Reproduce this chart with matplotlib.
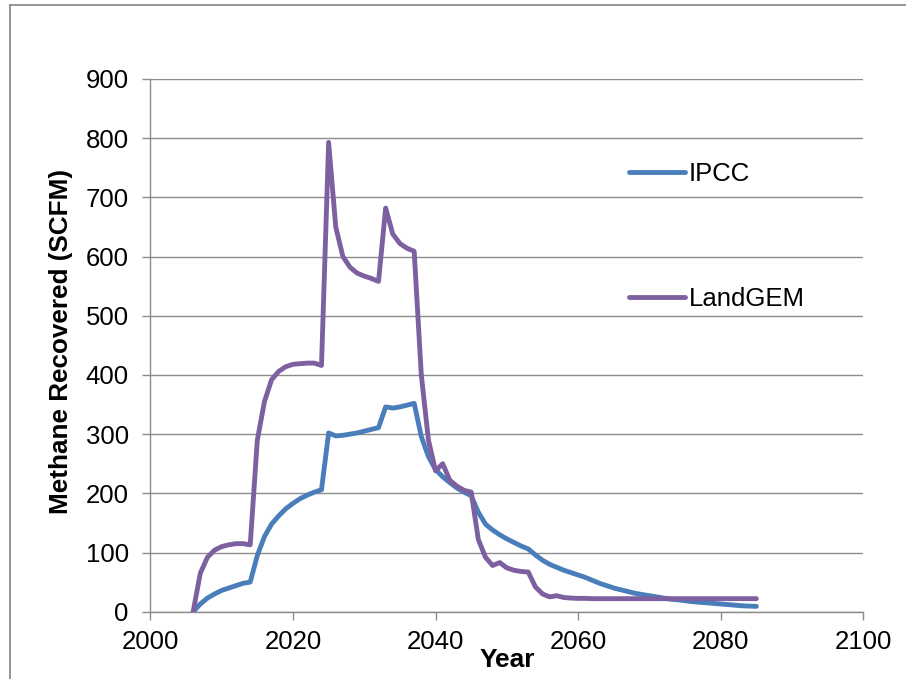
import matplotlib
matplotlib.use("Agg")
import matplotlib.pyplot as plt
from matplotlib.lines import Line2D

plt.rcParams['font.family'] = ['Liberation Sans', 'DejaVu Sans']

years = list(range(2006, 2086))

ipcc = [0, 13, 23, 30, 36, 40, 44, 48, 50,
        95, 127, 148, 162, 174, 183, 191, 197, 202, 206,
        302, 297, 298, 300, 302, 305, 308, 311,
        346, 344, 346, 349, 352,
        296, 262, 240, 228, 218, 209, 202, 196,
        168, 148, 138, 130, 123, 117, 111, 106,
        96, 87, 80, 75, 70, 66, 62, 58, 53, 48, 44, 40, 37, 34, 31, 29,
        27, 25, 23, 21, 20, 18.5, 17, 16, 15, 14, 13, 12, 11, 10, 9.5, 9]

landgem = [0, 65, 92, 104, 110, 113, 115, 115, 113,
           290, 355, 392, 406, 414, 418, 419, 420, 420, 416,
           793, 650, 600, 582, 572, 567, 563, 558,
           682, 638, 622, 614, 609,
           400, 290, 238, 250, 222, 212, 205, 202,
           122, 92, 78, 83, 74, 70, 68, 67,
           42, 30, 25, 27, 24, 23, 22.5, 22.5, 22, 22, 22, 22, 22, 22, 22, 22,
           22, 22, 22, 22, 22, 22, 22, 22, 22, 22, 22, 22, 22, 22, 22, 22]

series_names = ['IPCC', 'LandGEM']
colors = ['#4A7EBB', '#7D60A0']

W, H = 906, 679
fig = plt.figure(figsize=(W / 100, H / 100), dpi=100)
ax = fig.add_axes([150.4 / W, 1 - 611.7 / H, (863.3 - 150.4) / W, (611.7 - 79) / H])

# outer chart frame
fig.add_artist(Line2D([10 / W, 10 / W], [0, 1 - 5 / H], transform=fig.transFigure,
                      color='#8c8c8c', lw=1.3))
fig.add_artist(Line2D([10 / W, 1], [1 - 5 / H, 1 - 5 / H], transform=fig.transFigure,
                      color='#8c8c8c', lw=1.3))

ax.plot(years, ipcc, color=colors[0], lw=3.5, label=series_names[0],
        solid_capstyle='round', solid_joinstyle='round', zorder=3)
ax.plot(years, landgem, color=colors[1], lw=3.5, label=series_names[1],
        solid_capstyle='round', solid_joinstyle='round', zorder=3)

ax.set_xlim(2000, 2100)
ax.set_ylim(0, 900)
ax.set_xticks(range(2000, 2101, 20))
ax.set_yticks(range(0, 901, 100))
ax.yaxis.grid(True, color='#8c8c8c', lw=1.0)
ax.set_axisbelow(True)
for s in ['top', 'right']:
    ax.spines[s].set_visible(False)
for s in ['left', 'bottom']:
    ax.spines[s].set_color('#8c8c8c')
    ax.spines[s].set_linewidth(1.0)
ax.tick_params(axis='both', direction='out', length=5.5, width=1.0, color='#8c8c8c',
               labelsize=18.5, labelcolor='black')
ax.tick_params(axis='y', pad=10)
ax.tick_params(axis='x', pad=8)

ax.set_ylabel('Methane Recovered (SCFM)', fontsize=18.8, fontweight='bold')
ax.yaxis.set_label_coords(-0.109, 0.507)
ax.set_xlabel('Year', fontsize=19, fontweight='bold')
ax.xaxis.set_label_coords(0.5, -0.068)

leg = ax.legend(loc='upper left', bbox_to_anchor=(629.3 / W, 1 - 162 / H),
                bbox_transform=fig.transFigure, frameon=False, fontsize=18.5,
                handlelength=2.17, handletextpad=0.15, labelspacing=3.93,
                borderpad=0, borderaxespad=0)

fig.savefig('out.png', dpi=100)
